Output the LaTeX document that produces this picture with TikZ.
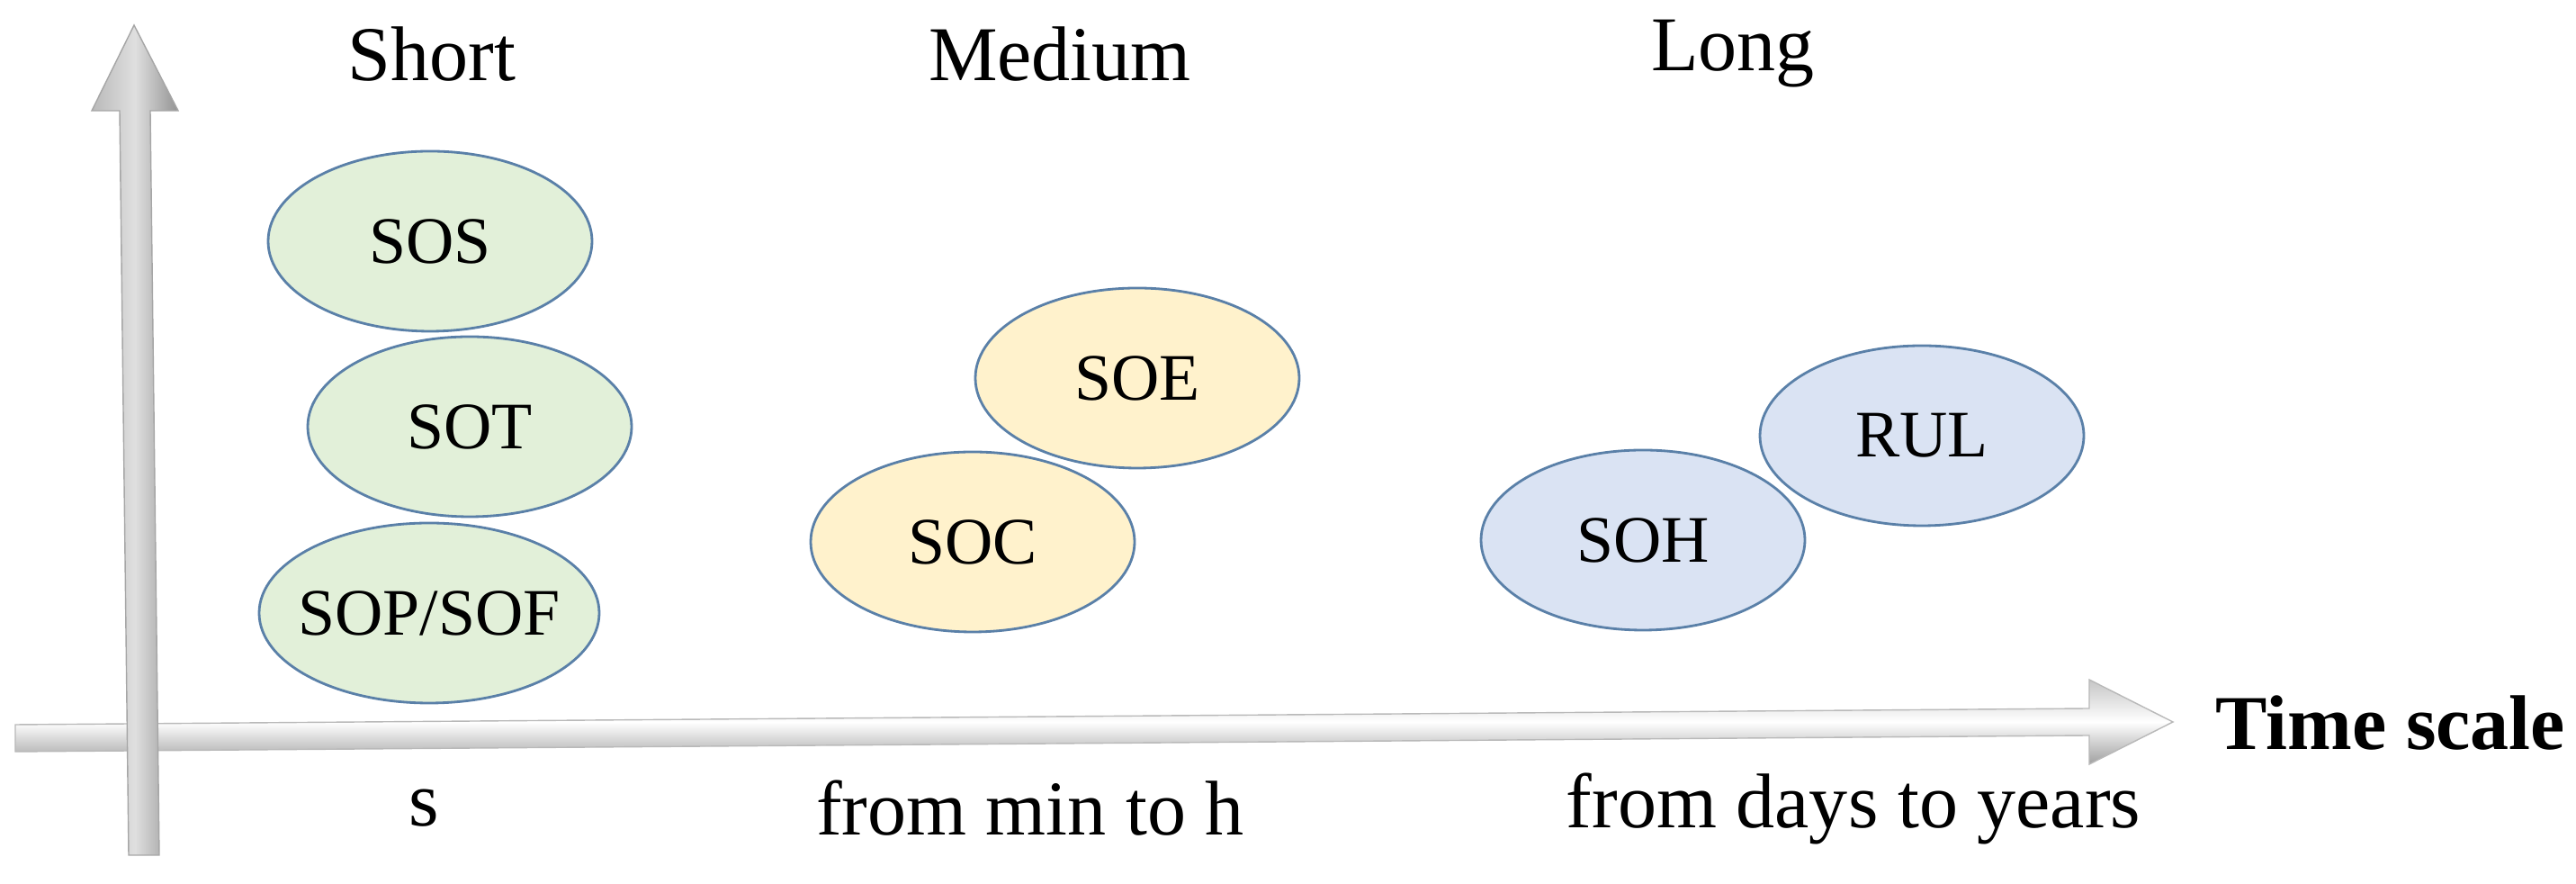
\documentclass[tikz,border=0pt]{standalone}
\usepackage{fontspec}
\setmainfont{Liberation Serif}
\usepackage{tikz}
\usetikzlibrary{shapes.geometric}
\usepackage{xcolor}
\definecolor{shortfill}{HTML}{E2F0D9}
\definecolor{midfill}{HTML}{FFF2CC}
\definecolor{longfill}{HTML}{DAE3F3}
\definecolor{rim}{HTML}{5A80A8}

\begin{document}
\begin{tikzpicture}[
  state/.style={ellipse, draw=rim, line width=0.8pt, minimum width=3.6cm,
    minimum height=2cm, inner sep=0pt, font=\fontsize{21}{25}\selectfont},
  head/.style={font=\fontsize{24.5}{28}\selectfont},
  span/.style={font=\fontsize{24.5}{28}\selectfont}]
  \useasboundingbox (0,0) rectangle (28.63,9.82);
  % time axis
  \shade[top color=gray!45, bottom color=gray!75, middle color=white, draw=gray!55]
    (0.17,1.47) -- (23.22,1.65) -- (23.22,1.33) -- (24.15,1.80)
    -- (23.22,2.27) -- (23.22,1.95) -- (0.17,1.77) -- cycle;
  % vertical axis
  \shade[left color=gray!55, right color=gray!85, middle color=gray!25, draw=gray!70]
    (1.43,0.32) -- (1.33,8.59) -- (1.02,8.59) -- (1.49,9.54)
    -- (1.98,8.59) -- (1.67,8.59) -- (1.77,0.32) -- cycle;
  \node (tscale) at (26.57,1.79) {\fontsize{24.5}{28}\selectfont\bfseries Time scale};
  % groups
  \node[head] (short) at (4.80,9.22) {Short};
  \node[head] (medium) at (11.78,9.22) {Medium};
  \node[head] (long) at (19.26,9.22) {Long};
  \node[state, fill=shortfill] (sos) at (4.78,7.14) {SOS};
  \node[state, fill=shortfill] (sot) at (5.22,5.08) {SOT};
  \node[state, fill=shortfill, minimum width=3.78cm] (sop) at (4.77,3.01)
    {\makebox[2cm]{SOP/SOF}};
  \node[state, fill=midfill] (soe) at (12.64,5.62) {SOE};
  \node[state, fill=midfill] (soc) at (10.81,3.80) {SOC};
  \node[state, fill=longfill] (rul) at (21.36,4.98) {RUL};
  \node[state, fill=longfill] (soh) at (18.26,3.82) {SOH};
  \node[span] (secs) at (4.71,0.84) {s};
  \node[span] (hours) at (11.45,0.84) {from min to h};
  \node[span] (years) at (20.60,0.84) {from days to years};
\end{tikzpicture}
\end{document}
